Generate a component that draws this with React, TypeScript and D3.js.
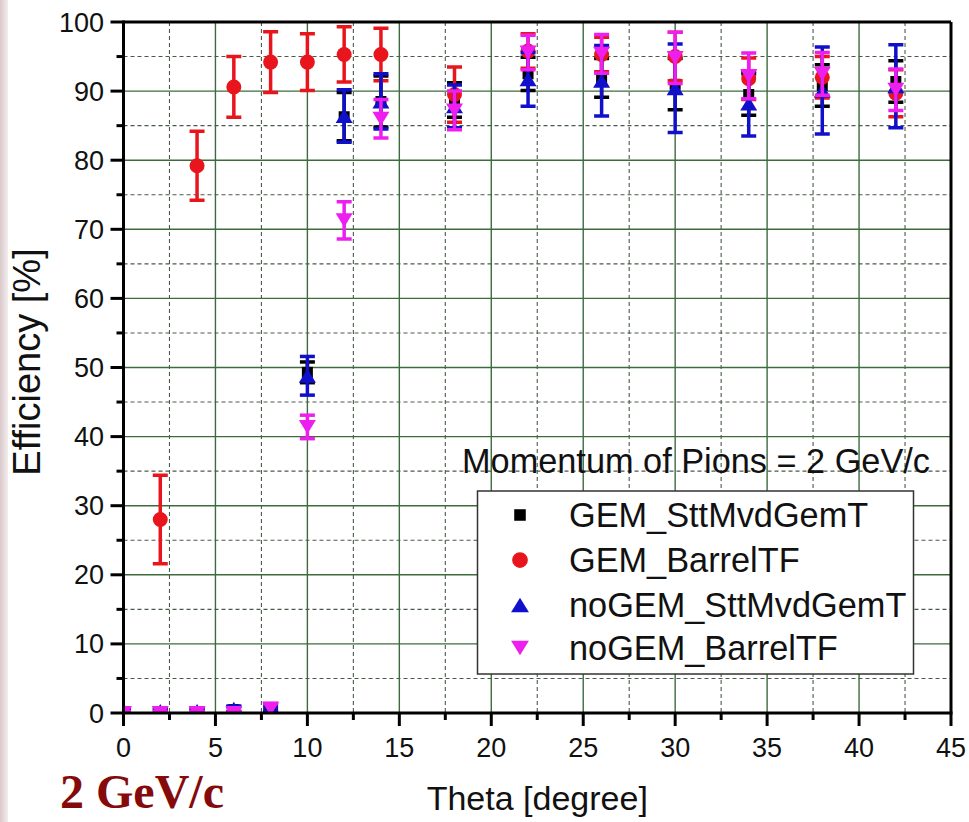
import React from "react";
import * as d3 from "d3";

const theta = [0, 2, 4, 6, 8, 10, 12, 14, 18, 22, 26, 30, 34, 38, 42];

const gemStt = [0, 0.2, 0.2, 0.5, 0.8, 49.3, 86.3, 88.5, 88.7, 92.5, 91.9, 91.0, 89.5, 90.8, 91.4];
const gemSttErr = [0.3, 0.3, 0.3, 0.4, 0.5, 1.5, 3.5, 3.7, 2.5, 2.4, 2.8, 3.7, 3.0, 3.0, 3.0];

const gemBarrel = [0, 28, 79.2, 90.6, 94.2, 94.2, 95.3, 95.3, 89.5, 95.8, 95.3, 95.0, 91.8, 92.0, 89.7];
const gemBarrelErr = [0.2, 6.4, 5.0, 4.4, 4.4, 4.1, 4.0, 3.8, 4.0, 2.5, 2.5, 3.5, 3.0, 3.0, 3.4];

const noGemStt = [0.2, 0.3, 0.3, 0.6, 0.5, 48.8, 86.4, 88.5, 87.8, 91.7, 91.5, 90.4, 88.2, 90.1, 90.7];
const noGemSttErr = [0.3, 0.3, 0.3, 0.4, 0.3, 2.8, 3.8, 4.0, 3.1, 3.9, 5.1, 6.4, 4.7, 6.3, 6.0];

const noGemBarrel = [0, 0, 0, 0, 0.6, 41.4, 71.3, 86.0, 87.2, 95.6, 95.4, 94.8, 92.2, 92.5, 90.2];
const noGemBarrelErr = [0.2, 0.2, 0.2, 0.3, 0.8, 1.7, 2.7, 2.8, 2.8, 2.5, 2.8, 3.7, 3.3, 3.1, 3.0];

const xTicks = [0, 5, 10, 15, 20, 25, 30, 35, 40, 45];
const yTicks = [0, 10, 20, 30, 40, 50, 60, 70, 80, 90, 100];

const seriesNames = ["GEM_SttMvdGemT", "GEM_BarrelTF", "noGEM_SttMvdGemT", "noGEM_BarrelTF"];
const seriesColors = ["#000000", "#e8161c", "#1010cc", "#ee1eee"];
const seriesShapes = ["square", "circle", "up", "down"];

const W = 969;
const H = 822;
const L = 123.5, R = 951, T = 22, B = 713;

function markerPath(shape: string, cx: number, cy: number, s = 1) {
  if (shape === "square") {
    const h = 5.5 * s;
    return `M${cx - h},${cy - h}H${cx + h}V${cy + h}H${cx - h}Z`;
  }
  if (shape === "circle") {
    const r = 7.5 * s;
    return `M${cx - r},${cy}a${r},${r} 0 1,0 ${2 * r},0a${r},${r} 0 1,0 ${-2 * r},0Z`;
  }
  if (shape === "up") {
    const w = 8.5 * s, h = 7 * s;
    return `M${cx},${cy - h}L${cx + w},${cy + h}L${cx - w},${cy + h}Z`;
  }
  const w = 8.5 * s, h = 7 * s;
  return `M${cx},${cy + h}L${cx + w},${cy - h}L${cx - w},${cy - h}Z`;
}

export default function App() {
  const x = d3.scaleLinear().domain([0, 45]).range([L, R]);
  const y = d3.scaleLinear().domain([0, 100]).range([B, T]);

  const values = [gemStt, gemBarrel, noGemStt, noGemBarrel];
  const errors = [gemSttErr, gemBarrelErr, noGemSttErr, noGemBarrelErr];

  const minorX = d3.range(2.5, 45, 5);
  const minorY = d3.range(5, 100, 10);
  const majorXGrid = xTicks.filter((t) => t > 0 && t < 45);
  const majorYGrid = yTicks.filter((t) => t > 0 && t < 100);

  const grid = "#3d6b3d";
  const font = "'Liberation Sans', Arial, sans-serif";

  const legendRows = [515, 560, 605, 648];

  return (
    <svg width={W} height={H} style={{ position: "absolute", left: 0, top: 0, background: "#fff" }}>
      <defs>
        <linearGradient id="edge" x1="0" x2="1" y1="0" y2="0">
          <stop offset="0" stopColor="#d9c9cb" />
          <stop offset="1" stopColor="#f3eded" />
        </linearGradient>
        <clipPath id="plotClip">
          <rect x={L} y={T} width={R - L} height={B - T} />
        </clipPath>
      </defs>
      <rect x={0} y={0} width={W} height={H} fill="#fff" />
      <rect x={0} y={0} width={8} height={H} fill="url(#edge)" />

      {/* grid */}
      {minorX.map((v) => (
        <line key={"mx" + v} x1={x(v)} x2={x(v)} y1={T} y2={B} stroke="#4a5a4a" strokeWidth={1.1} strokeDasharray="4,3" />
      ))}
      {minorY.map((v) => (
        <line key={"my" + v} x1={L} x2={R} y1={y(v)} y2={y(v)} stroke="#4a5a4a" strokeWidth={1.1} strokeDasharray="4,3" />
      ))}
      {majorXGrid.map((v) => (
        <line key={"gx" + v} x1={x(v)} x2={x(v)} y1={T} y2={B} stroke={grid} strokeWidth={1.4} />
      ))}
      {majorYGrid.map((v) => (
        <line key={"gy" + v} x1={L} x2={R} y1={y(v)} y2={y(v)} stroke={grid} strokeWidth={1.4} />
      ))}

      {/* annotation */}
      <text x={462} y={473} fontFamily={font} fontSize={34.3} fill="#111">
        Momentum of Pions = 2 GeV/c
      </text>

      {/* legend */}
      <rect x={477.5} y={491} width={436} height={183} fill="#fff" stroke="#333" strokeWidth={1.5} />
      {seriesNames.map((n, i) => (
        <g key={n}>
          <path d={markerPath(seriesShapes[i], 520, legendRows[i], 1.05)} fill={seriesColors[i]} />
          <text x={569} y={legendRows[i] + 12} fontFamily={font} fontSize={34.3} fill="#111">
            {n}
          </text>
        </g>
      ))}

      {/* data */}
      <g clipPath="url(#plotClip)">
        {values.map((vals, si) => (
          <g key={"s" + si} stroke={seriesColors[si]} fill={seriesColors[si]}>
            {vals.map((v, i) => {
              const cx = x(theta[i]);
              const e = errors[si][i];
              const y1 = y(v + e);
              const y2 = y(v - e);
              return (
                <g key={i}>
                  <line x1={cx} x2={cx} y1={y1} y2={y2} strokeWidth={3.5} />
                  <line x1={cx - 7.5} x2={cx + 7.5} y1={y1} y2={y1} strokeWidth={3.5} />
                  <line x1={cx - 7.5} x2={cx + 7.5} y1={y2} y2={y2} strokeWidth={3.5} />
                  <path d={markerPath(seriesShapes[si], cx, y(v))} stroke="none" />
                </g>
              );
            })}
          </g>
        ))}
      </g>

      {/* frame */}
      <line x1={L} x2={R} y1={T} y2={T} stroke="#000" strokeWidth={3} />
      <line x1={R} x2={R} y1={T} y2={B} stroke="#000" strokeWidth={3} />

      {/* axes */}
      <line x1={L} x2={L} y1={T - 1.5} y2={B + 1.5} stroke="#000" strokeWidth={3} />
      <line x1={L - 1.5} x2={R + 1.5} y1={B} y2={B} stroke="#000" strokeWidth={3} />
      {yTicks.map((t) => (
        <g key={"yt" + t}>
          <line x1={L - 13} x2={L} y1={y(t)} y2={y(t)} stroke="#000" strokeWidth={3} />
          <text x={104} y={y(t) + 9.5} textAnchor="end" fontFamily={font} fontSize={27} fill="#111">
            {t}
          </text>
        </g>
      ))}
      {minorY.map((t) => (
        <line key={"ymt" + t} x1={L - 7} x2={L} y1={y(t)} y2={y(t)} stroke="#000" strokeWidth={3} />
      ))}
      {xTicks.map((t) => (
        <g key={"xt" + t}>
          <line x1={x(t)} x2={x(t)} y1={B} y2={B + 13} stroke="#000" strokeWidth={3} />
          <text x={x(t)} y={757} textAnchor="middle" fontFamily={font} fontSize={27} fill="#111">
            {t}
          </text>
        </g>
      ))}
      {minorX.map((t) => (
        <line key={"xmt" + t} x1={x(t)} x2={x(t)} y1={B} y2={B + 7} stroke="#000" strokeWidth={3} />
      ))}

      {/* axis titles */}
      <text x={(L + R) / 2} y={810} textAnchor="middle" fontFamily={font} fontSize={34} fill="#111">
        Theta [degree]
      </text>
      <text
        transform={`translate(40,${362}) rotate(-90)`}
        textAnchor="middle"
        fontFamily={font}
        fontSize={38}
        fill="#111"
      >
        Efficiency [%]
      </text>

      <text x={60} y={808} fontFamily="'Liberation Serif', 'Times New Roman', serif" fontWeight="bold" fontSize={48} fill="#850b0b">
        2 GeV/c
      </text>
    </svg>
  );
}
